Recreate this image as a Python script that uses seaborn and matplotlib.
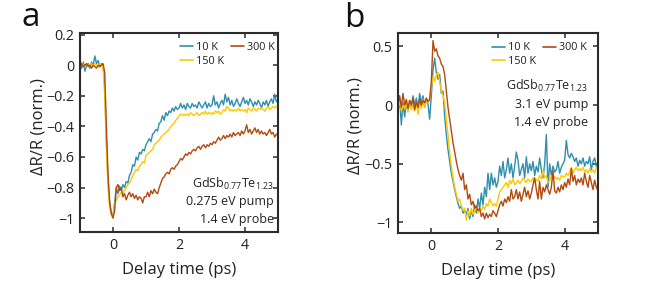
import numpy as np
import pandas as pd
import matplotlib
matplotlib.use("Agg")
import matplotlib.pyplot as plt
import seaborn as sns

# ---------------- data ----------------
delay_ps = np.round(np.arange(-1.0, 5.001, 0.05), 2)  # 121 sample delays

a_10K = [
    0.01, -0.02, 0.02, -0.04, 0.00, 0.01, -0.02, 0.02, 0.00, 0.06,
    0.01, 0.03, -0.01, 0.01, 0.00, -0.15, -0.50, -0.75, -0.90, -0.97,
    -0.98, -0.90, -0.80, -0.84, -0.79, -0.82, -0.78, -0.80, -0.76, -0.77,
    -0.72, -0.70, -0.65, -0.66, -0.60, -0.62, -0.57, -0.58, -0.55, -0.56,
    -0.52, -0.50, -0.48, -0.50, -0.45, -0.44, -0.42, -0.43, -0.38, -0.37,
    -0.33, -0.36, -0.31, -0.33, -0.30, -0.31, -0.28, -0.30, -0.27, -0.29,
    -0.28, -0.25, -0.28, -0.26, -0.29, -0.25, -0.27, -0.28, -0.25, -0.27,
    -0.26, -0.28, -0.24, -0.26, -0.28, -0.26, -0.24, -0.28, -0.25, -0.27,
    -0.26, -0.20, -0.26, -0.24, -0.28, -0.25, -0.23, -0.26, -0.19, -0.24,
    -0.21, -0.26, -0.23, -0.27, -0.25, -0.22, -0.25, -0.27, -0.24, -0.21,
    -0.25, -0.23, -0.26, -0.22, -0.24, -0.27, -0.24, -0.26, -0.23, -0.25,
    -0.28, -0.24, -0.26, -0.23, -0.27, -0.24, -0.22, -0.25, -0.19, -0.24,
    -0.22]

a_150K = [
    0.00, 0.02, 0.00, -0.01, 0.01, 0.00, -0.01, 0.01, 0.00, 0.01,
    0.00, -0.01, 0.01, 0.00, -0.02, -0.20, -0.55, -0.80, -0.93, -0.98,
    -0.99, -0.90, -0.88, -0.86, -0.85, -0.83, -0.84, -0.82, -0.80, -0.78,
    -0.77, -0.75, -0.72, -0.70, -0.68, -0.69, -0.66, -0.65, -0.63, -0.64,
    -0.59, -0.58, -0.57, -0.56, -0.55, -0.52, -0.51, -0.50, -0.49, -0.47,
    -0.46, -0.45, -0.44, -0.43, -0.42, -0.40, -0.39, -0.38, -0.36, -0.35,
    -0.33, -0.32, -0.33, -0.32, -0.33, -0.32, -0.33, -0.31, -0.32, -0.33,
    -0.32, -0.31, -0.33, -0.32, -0.31, -0.32, -0.30, -0.32, -0.31, -0.32,
    -0.31, -0.32, -0.30, -0.31, -0.30, -0.32, -0.31, -0.29, -0.30, -0.27,
    -0.28, -0.30, -0.29, -0.30, -0.29, -0.30, -0.28, -0.30, -0.29, -0.30,
    -0.29, -0.31, -0.28, -0.29, -0.30, -0.28, -0.29, -0.30, -0.28, -0.29,
    -0.28, -0.29, -0.30, -0.28, -0.27, -0.29, -0.28, -0.27, -0.28, -0.27,
    -0.27]

a_300K = [
    0.00, 0.01, -0.01, 0.00, 0.01, -0.01, 0.00, -0.02, 0.00, -0.01,
    -0.02, 0.00, -0.01, 0.00, 0.01, -0.05, -0.40, -0.72, -0.90, -0.97,
    -1.00, -0.95, -0.80, -0.78, -0.82, -0.80, -0.86, -0.84, -0.88, -0.85,
    -0.83, -0.86, -0.84, -0.87, -0.85, -0.88, -0.86, -0.87, -0.90, -0.86,
    -0.86, -0.83, -0.86, -0.82, -0.84, -0.81, -0.83, -0.84, -0.80, -0.77,
    -0.74, -0.73, -0.71, -0.70, -0.71, -0.68, -0.67, -0.68, -0.66, -0.65,
    -0.63, -0.61, -0.62, -0.60, -0.58, -0.59, -0.57, -0.58, -0.56, -0.55,
    -0.56, -0.54, -0.53, -0.55, -0.53, -0.52, -0.54, -0.52, -0.53, -0.51,
    -0.52, -0.50, -0.51, -0.49, -0.47, -0.49, -0.48, -0.46, -0.48, -0.46,
    -0.47, -0.45, -0.47, -0.44, -0.46, -0.45, -0.44, -0.46, -0.43, -0.45,
    -0.43, -0.39, -0.44, -0.42, -0.45, -0.43, -0.41, -0.44, -0.42, -0.45,
    -0.43, -0.45, -0.44, -0.46, -0.44, -0.42, -0.45, -0.44, -0.47, -0.45,
    -0.46]

b_10K = [
    -0.05, 0.05, -0.17, 0.02, -0.10, 0.03, -0.05, 0.04, -0.02, 0.08,
    0.00, 0.06, -0.03, 0.10, 0.02, 0.08, -0.02, 0.05, 0.01, -0.12,
    0.08, 0.30, 0.40, 0.28, 0.22, 0.26, 0.10, 0.12, -0.10, -0.25,
    -0.38, -0.48, -0.58, -0.65, -0.72, -0.78, -0.84, -0.88, -0.86, -0.92,
    -0.90, -0.93, -0.88, -0.97, -0.90, -0.95, -0.85, -0.92, -0.80, -0.88,
    -0.75, -0.85, -0.70, -0.78, -0.58, -0.72, -0.58, -0.68, -0.62, -0.70,
    -0.65, -0.52, -0.60, -0.48, -0.62, -0.55, -0.45, -0.58, -0.50, -0.62,
    -0.52, -0.40, -0.47, -0.60, -0.55, -0.50, -0.62, -0.44, -0.58, -0.50,
    -0.56, -0.48, -0.60, -0.52, -0.57, -0.45, -0.55, -0.62, -0.50, -0.25,
    -0.70, -0.50, -0.60, -0.52, -0.57, -0.55, -0.48, -0.58, -0.53, -0.50,
    -0.47, -0.30, -0.42, -0.45, -0.41, -0.44, -0.48, -0.45, -0.52, -0.47,
    -0.50, -0.45, -0.52, -0.48, -0.50, -0.44, -0.55, -0.48, -0.45, -0.52,
    -0.50]

b_150K = [
    -0.02, 0.03, -0.05, 0.00, -0.03, 0.02, -0.06, 0.04, -0.04, 0.00,
    -0.05, 0.03, -0.08, 0.02, -0.03, 0.05, -0.02, 0.06, 0.02, 0.05,
    0.15, 0.25, 0.20, 0.26, 0.28, 0.20, 0.12, 0.08, 0.02, -0.12,
    -0.25, -0.40, -0.52, -0.62, -0.70, -0.76, -0.82, -0.80, -0.86, -0.90,
    -0.88, -0.98, -0.90, -0.94, -0.88, -0.93, -0.90, -0.86, -0.92, -0.88,
    -0.90, -0.86, -0.89, -0.84, -0.86, -0.80, -0.83, -0.86, -0.84, -0.86,
    -0.80, -0.74, -0.72, -0.70, -0.68, -0.66, -0.70, -0.64, -0.67, -0.63,
    -0.68, -0.66, -0.64, -0.67, -0.65, -0.62, -0.64, -0.66, -0.63, -0.65,
    -0.65, -0.62, -0.66, -0.63, -0.65, -0.60, -0.63, -0.56, -0.62, -0.60,
    -0.66, -0.65, -0.60, -0.64, -0.61, -0.63, -0.62, -0.64, -0.60, -0.61,
    -0.61, -0.58, -0.60, -0.57, -0.53, -0.58, -0.55, -0.53, -0.56, -0.54,
    -0.56, -0.53, -0.57, -0.55, -0.58, -0.54, -0.57, -0.55, -0.58, -0.53,
    -0.55]

b_300K = [
    0.02, 0.08, -0.02, 0.10, 0.00, 0.05, -0.03, 0.04, 0.00, 0.06,
    -0.04, 0.03, -0.02, 0.05, 0.00, 0.04, 0.02, 0.06, 0.03, 0.05,
    0.20, 0.55, 0.46, 0.48, 0.42, 0.40, 0.35, 0.33, 0.26, 0.12,
    -0.02, -0.12, -0.22, -0.32, -0.40, -0.48, -0.55, -0.60, -0.64, -0.58,
    -0.72, -0.68, -0.80, -0.76, -0.85, -0.82, -0.88, -0.86, -0.90, -0.88,
    -0.95, -0.92, -0.97, -0.92, -0.96, -0.93, -0.95, -0.90, -0.92, -0.95,
    -0.90, -0.85, -0.82, -0.86, -0.80, -0.83, -0.78, -0.82, -0.72, -0.80,
    -0.78, -0.72, -0.80, -0.74, -0.82, -0.76, -0.70, -0.78, -0.73, -0.80,
    -0.75, -0.68, -0.62, -0.72, -0.80, -0.65, -0.80, -0.70, -0.74, -0.68,
    -0.72, -0.76, -0.70, -0.56, -0.73, -0.75, -0.70, -0.74, -0.68, -0.72,
    -0.66, -0.70, -0.63, -0.68, -0.54, -0.65, -0.60, -0.68, -0.63, -0.66,
    -0.62, -0.68, -0.58, -0.65, -0.70, -0.60, -0.66, -0.72, -0.64, -0.70,
    -0.73]

series_labels = ["10 K", "150 K", "300 K"]
series_colors = ["#2f8fae", "#ffc800", "#b24a10"]

x_ticks = [0, 2, 4]
x_ticklabels = ["0", "2", "4"]
a_yticks = [0.2, 0, -0.2, -0.4, -0.6, -0.8, -1]
a_yticklabels = ["0.2", "0", "\u22120.2", "\u22120.4", "\u22120.6", "\u22120.8", "\u22121"]
b_yticks = [0.5, 0, -0.5, -1]
b_yticklabels = ["0.5", "0", "\u22120.5", "\u22121"]

a_text = ["GdSb$_{0.77}$Te$_{1.23}$", "0.275 eV pump", "1.4 eV probe"]
b_text = ["GdSb$_{0.77}$Te$_{1.23}$", "3.1 eV pump", "1.4 eV probe"]

# ---------------- figure ----------------
sns.set_style("ticks")
plt.rcParams["font.family"] = ["Open Sans", "DejaVu Sans"]
plt.rcParams["mathtext.fontset"] = "custom"
plt.rcParams["mathtext.rm"] = "Open Sans"
plt.rcParams["mathtext.it"] = "Open Sans:italic"
plt.rcParams["mathtext.bf"] = "Open Sans:bold"

fig = plt.figure(figsize=(6.65, 2.85), dpi=100)
ax_a = fig.add_axes([80 / 665, 53 / 285, 198 / 665, 199 / 285])
ax_b = fig.add_axes([398 / 665, 52 / 285, 200 / 665, 200 / 285])

spine_col = "#2b2b2b"
text_col = "#222222"


def draw(ax, values, ylim, yticks, yticklabels, texts, text_x, text_y0,
         leg_anchor, ylab_x, ylab_y):
    for vals, lab, col in zip(values, series_labels, series_colors):
        df = pd.DataFrame({"t": delay_ps, "v": vals})
        sns.lineplot(data=df, x="t", y="v", ax=ax, color=col, lw=1.0,
                     label=lab, legend=False)
    ax.set_xlim(-1, 5)
    ax.set_ylim(*ylim)
    ax.set_xticks(x_ticks)
    ax.set_xticklabels(x_ticklabels)
    ax.set_yticks(yticks)
    ax.set_yticklabels(yticklabels)
    ax.tick_params(direction="in", length=3.5, width=1.1, color=spine_col,
                   top=True, right=True, labelsize=10.3, labelcolor=text_col,
                   pad=4)
    for s in ax.spines.values():
        s.set_visible(True)
        s.set_linewidth(1.5)
        s.set_color(spine_col)
    ax.set_xlabel("Delay time (ps)", fontsize=12, color=text_col)
    ax.set_ylabel("ΔR/R (norm.)", fontsize=12, color=text_col)
    ax.xaxis.set_label_coords(0.5, -0.15)
    ax.yaxis.set_label_coords(ylab_x, ylab_y)
    leg = ax.legend(loc="upper right", bbox_to_anchor=leg_anchor,
                    borderaxespad=0, ncol=2, frameon=False,
                    prop={"family": "Open Sans", "size": 7.8},
                    handlelength=1.2, handletextpad=0.25, columnspacing=0.7,
                    labelspacing=0.25, borderpad=0.4)
    for line in leg.get_lines():
        line.set_linewidth(1.2)
    for t in leg.get_texts():
        t.set_color(text_col)
    for i, s in enumerate(texts):
        ax.text(text_x, text_y0 - i * 0.091, s, transform=ax.transAxes,
                ha="right", va="center", fontsize=9, color=text_col)


draw(ax_a, [a_10K, a_150K, a_300K], (-1.09, 0.21), a_yticks, a_yticklabels,
     a_text, 0.98, 0.243, (1.007, 0.977), -0.167, 0.53)
draw(ax_b, [b_10K, b_150K, b_300K], (-1.09, 0.615), b_yticks, b_yticklabels,
     b_text, 0.95, 0.735, (0.967, 0.975), -0.175, 0.535)

fig.text(22 / 665, 1 - 26 / 285, "a", fontsize=24, ha="left", va="baseline",
         color="#111111")
fig.text(344 / 665, 1 - 27 / 285, "b", fontsize=24, ha="left", va="baseline",
         color="#111111")

fig.savefig("out.png", dpi=100)
